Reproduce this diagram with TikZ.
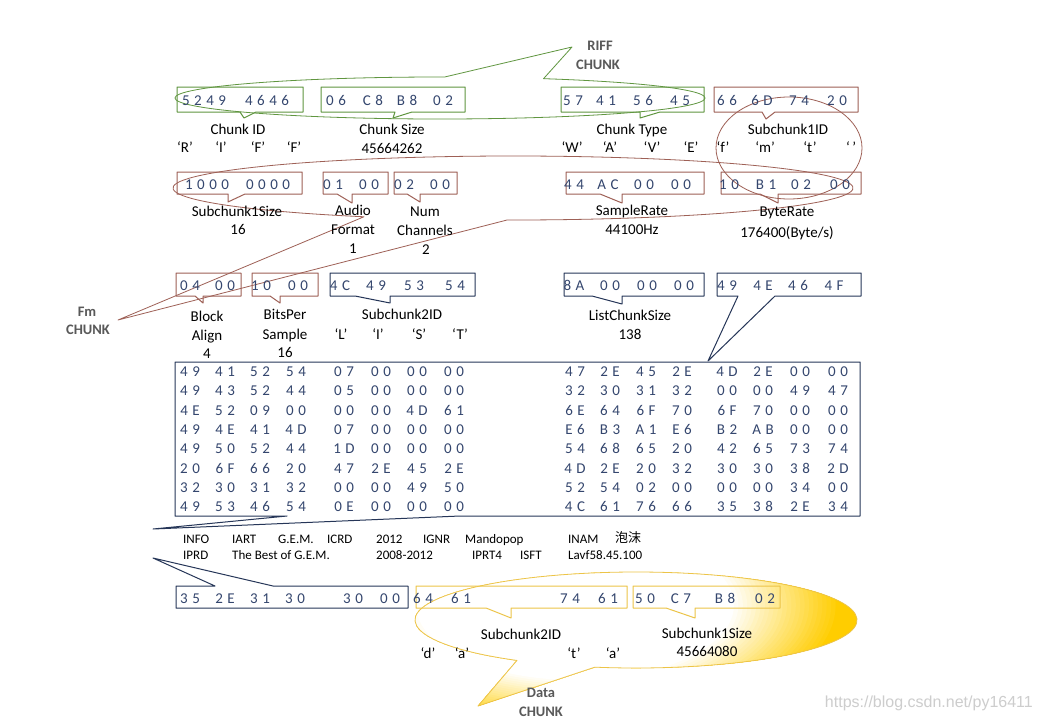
\documentclass[tikz,border=0pt]{standalone}
\usepackage{fontspec}
\setmainfont{Carlito}
\newfontfamily\hexfont{Carlito}[LetterSpace=30]
\newfontfamily\cjk{Noto Sans CJK SC}
\newfontfamily\wmfont{Liberation Sans}
\usetikzlibrary{calc}
\definecolor{hexc}{RGB}{52,70,110}
\definecolor{grn}{RGB}{96,150,64}
\definecolor{brn}{RGB}{158,96,86}
\definecolor{nvy}{RGB}{38,54,88}
\definecolor{gld}{RGB}{236,196,72}
\definecolor{yel}{RGB}{255,205,0}
\definecolor{lblc}{RGB}{89,89,89}
\definecolor{wmc}{RGB}{205,205,205}
\newcommand\cbox[9]{\draw[#1] (#2,#3) -- (#4,#3) -- (#4,#5) -- (#7,#5) -- (#8,#9) -- (#6,#5) -- (#2,#5) -- cycle;}
\tikzset{
  lab/.style={font=\fontsize{15}{15}\selectfont, inner sep=0pt, text height=10pt, text depth=3pt},
  hx/.style={font=\hexfont\fontsize{15}{15}\selectfont, text=hexc, inner sep=0pt, xshift=-2pt, text height=10pt, text depth=0pt},
  info/.style={font=\fontsize{13}{13}\selectfont, inner sep=0pt, anchor=west, text height=9pt, text depth=3pt},
  chunk/.style={font=\bfseries\fontsize{14.5}{14.5}\selectfont, text=lblc, inner sep=0pt, text height=10pt, text depth=0pt},
  gbox/.style={draw=grn, line width=1pt},
  bbox/.style={draw=brn, line width=1pt},
  nbox/.style={draw=nvy, line width=1pt},
  ybox/.style={draw=gld, line width=1pt},
}
\begin{document}
\begin{tikzpicture}[x=1pt,y=-1pt,line join=round]
\useasboundingbox (0,0) rectangle (1040,720);
\fill[white] (0,0) rectangle (1040,720);

% yellow data callout, gradient simulated by concentric bands
\begin{scope}
  \clip (636,620) ++(122.6:221 and 48) arc[start angle=122.6, end angle=460.7, x radius=221, y radius=48] -- (478,706) -- cycle;
  \fill[yel] (400,560) rectangle (870,712);
  \foreach \k in {0,...,24} {
    \pgfmathsetmacro\sc{1-0.40*\k/24}
    \pgfmathtruncatemacro\pc{100-100*\k/24}
    \fill[yel!\pc!white] (575,605) ellipse[x radius={265*\sc}, y radius={125*\sc}];
  }
\end{scope}
\draw[gld, line width=0.8pt] (636,620) ++(122.6:221 and 48) arc[start angle=122.6, end angle=460.7, x radius=221, y radius=48] -- (478,706) -- cycle;

% green RIFF callout
\draw[grn, line width=0.8pt] (440,98) ++(293:265 and 21) arc[start angle=293, end angle=631, x radius=265, y radius=21] -- (572,47) -- cycle;
% brown fm callout
\draw[brn, line width=0.8pt] (513,188) ++(116:340 and 32) arc[start angle=116, end angle=451, x radius=340, y radius=32] -- (118,320) -- cycle;
\draw[brn, line width=0.8pt] (789,148) ellipse[x radius=73, y radius=51];

% row 1 boxes
\cbox{gbox}{177}{87}{303}{112}{240}{256}{244}{118}
\cbox{gbox}{321}{87}{465}{112}{395}{412}{393}{118}
\cbox{gbox}{561}{87}{704}{112}{640}{660}{640}{118}
\cbox{bbox}{714}{87}{858}{112}{762}{775}{766}{119}
% row 2 boxes
\cbox{bbox}{177}{172}{302}{194}{228}{245}{228}{202}
\cbox{bbox}{323}{172}{388}{194}{337}{352}{352}{203}
\cbox{bbox}{394}{172}{457}{194}{407}{420}{420}{202}
\cbox{bbox}{566}{172}{704}{194}{600}{622}{622}{203}
\cbox{bbox}{721}{172}{861}{194}{760}{778}{778}{203}
% row 3 boxes
\cbox{bbox}{176}{273}{241}{296}{195}{203}{203}{303}
\cbox{bbox}{252}{273}{318}{296}{270}{280}{280}{303}
\cbox{nbox}{330}{273}{475}{296}{355}{390}{390}{303}
\cbox{nbox}{564}{273}{704}{296}{592}{622}{622}{304}
\cbox{nbox}{717}{273}{861}{296}{738}{775}{708}{361}
% data box
\draw[nbox] (175,362) -- (860,362) -- (860,516) -- (460,516) -- (153,529) -- (287,516) -- (175,516) -- cycle;
% bottom boxes
\draw[nbox] (176,586) -- (215,586) -- (153,558) -- (273,586) -- (408,586) -- (408,608) -- (176,608) -- cycle;
\cbox{ybox}{416}{586}{627}{608}{486}{511}{511}{618}
\cbox{ybox}{633}{586}{780}{608}{666}{695}{695}{618}

% hex texts row 1
\node[hx] (h1a) at (206,100) {5249};
\node[hx] (h1b) at (269,100) {4646};
\foreach \x/\t [count=\i] in {338/06,375/C8,409/B8,445/02,575/57,608/41,645/56,682/45,729/66,764/6D,801/74,839/20}
  \node[hx] (r1-\i) at (\x,100) {\t};
% row 2
\node[hx] (h2a) at (209,184) {1000};
\node[hx] (h2b) at (270,184) {0000};
\foreach \x/\t [count=\i] in {335/01,371/00,406/02,442/00,576/44,610/AC,646/00,683/00,731/10,768/B1,803/02,842/00}
  \node[hx] (r2-\i) at (\x,184) {\t};
% row 3
\foreach \x/\t [count=\i] in {192/04,227/00,263/10,300/00,342/4C,378/49,416/53,457/54,576/8A,612/00,649/00,686/00,729/49,765/4E,800/46,836/4F}
  \node[hx] (r3-\i) at (\x,285) {\t};
% data rows
\foreach \row [count=\r] in {
 {49,41,52,54,07,00,00,00,47,2E,45,2E,4D,2E,00,00},
 {49,43,52,44,05,00,00,00,32,30,31,32,00,00,49,47},
 {4E,52,09,00,00,00,4D,61,6E,64,6F,70,6F,70,00,00},
 {49,4E,41,4D,07,00,00,00,E6,B3,A1,E6,B2,AB,00,00},
 {49,50,52,44,1D,00,00,00,54,68,65,20,42,65,73,74},
 {20,6F,66,20,47,2E,45,2E,4D,2E,20,32,30,30,38,2D},
 {32,30,31,32,00,00,49,50,52,54,02,00,00,00,34,00},
 {49,53,46,54,0E,00,00,00,4C,61,76,66,35,38,2E,34}}
{
  \foreach \b [count=\c] in \row {
    \pgfmathsetmacro\xx{{192,227,262,298,346,383,419,456,577,612,648,684,729,765,802,840}[\c-1]}
    \node[hx] (d-\r-\c) at (\xx,{371.5+(\r-1)*19.3}) {\b};
  }
}
% bottom hex
\foreach \x/\t [count=\i] in {192/35,227/2E,262/31,297/30,355/30,392/00,425/64,463/61,572/74,610/61,647/50,683/C7,727/B8,767/02}
  \node[hx] (r4-\i) at (\x,598) {\t};

% labels row 1
\node[lab] (l1) at (238,131) {Chunk ID};
\node[lab] (l2) at (392,131) {Chunk Size};
\node[lab] (l3) at (632,131) {Chunk Type};
\node[lab] (l4) at (788,131) {Subchunk1ID};
\node[lab] (l5) at (392,150) {45664262};
\foreach \x/\t [count=\i] in {185/R,221/I,258/F,294/F,572/W,610/A,652/V,691/E,723/f,765/m,810/t}
  \node[lab] (q1-\i) at (\x,149) {‘\t’};
\node[lab] (q1-sp) at (851,149) {‘\,’};
% labels row 2
\node[lab] (l6) at (237,213) {Subchunk1Size};
\node[lab] (l7) at (238,231) {16};
\node[lab] (l8) at (353,212) {Audio};
\node[lab] (l9) at (353,231) {Format};
\node[lab] (l10) at (353,250) {1};
\node[lab] (l11) at (425,213) {Num};
\node[lab] (l12) at (425,232) {Channels};
\node[lab] (l13) at (426,251) {2};
\node[lab] (l14) at (632,212) {SampleRate};
\node[lab] (l15) at (632,231) {44100Hz};
\node[lab] (l16) at (787,213) {ByteRate};
\node[lab] (l17) at (787,234) {176400(Byte/s)};
% labels row 3
\node[lab] (l18) at (207,318) {Block};
\node[lab] (l19) at (207,337) {Align};
\node[lab] (l20) at (207,355) {4};
\node[lab] (l21) at (285,316) {BitsPer};
\node[lab] (l22) at (285,336) {Sample};
\node[lab] (l23) at (285,354) {16};
\node[lab] (l24) at (402,316) {Subchunk2ID};
\foreach \x/\t [count=\i] in {341/L,378/I,419/S,460/T}
  \node[lab] (q3-\i) at (\x,336) {‘\t’};
\node[lab] (l25) at (630,317) {ListChunkSize};
\node[lab] (l26) at (630,336) {138};
% info lines
\node[info] (i1) at (183,540) {INFO};
\node[info] (i2) at (232,540) {IART};
\node[info] (i3) at (278,540) {G.E.M.};
\node[info] (i4) at (327,540) {ICRD};
\node[info] (i5) at (376,540) {2012};
\node[info] (i6) at (423,540) {IGNR};
\node[info] (i7) at (465,540) {Mandopop};
\node[info] (i8) at (568,540) {INAM};
\node[info, font=\cjk\fontsize{13}{13}\selectfont] (i9) at (615,539) {泡沫};
\node[info] (i10) at (183,556) {IPRD};
\node[info] (i11) at (232,556) {The Best of G.E.M.};
\node[info] (i12) at (376,556) {2008-2012};
\node[info] (i13) at (472,556) {IPRT4};
\node[info] (i14) at (520,556) {ISFT};
\node[info] (i15) at (568,556) {Lavf58.45.100};
% bottom labels
\node[lab] (l27) at (521,636) {Subchunk2ID};
\foreach \x/\t [count=\i] in {428/d,462/a,574/t,613/a}
  \node[lab] (q4-\i) at (\x,655) {‘\t’};
\node[lab] (l28) at (707,635) {Subchunk1Size};
\node[lab] (l29) at (707,653) {45664080};
% chunk names
\node[chunk] (c1) at (600,45) {RIFF};
\node[chunk] (c2) at (598,64) {CHUNK};
\node[chunk] (c3) at (87,311) {Fm};
\node[chunk] (c4) at (88,329) {CHUNK};
\node[chunk] (c5) at (541,692) {Data};
\node[chunk] (c6) at (541,711) {CHUNK};
% watermark
\node[font=\wmfont\fontsize{16}{16}\selectfont, text=wmc, anchor=east, inner sep=0pt] (wm) at (1033,703) {https://blog.csdn.net/py16411};
\end{tikzpicture}
\end{document}
